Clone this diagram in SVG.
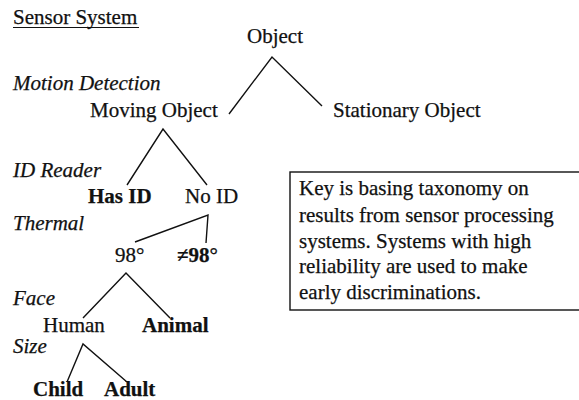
<svg xmlns="http://www.w3.org/2000/svg" width="579" height="400" viewBox="0 0 579 400">
  <style>
    text { font-family: 'Liberation Serif', 'Times New Roman', serif; font-size: 21px; fill: #111; stroke: #111; stroke-width: 0.25; }
    .lvl { font-style: italic; }
    .b { font-weight: bold; }
    .edge { stroke: #111; stroke-width: 1.4; fill: none; }
    .note { fill: #fff; stroke: #111; stroke-width: 1.4; }
  </style>
  <rect width="579" height="400" fill="#fff"/>

  <!-- title -->
  <g id="title">
    <text x="13" y="24">Sensor System</text>
    <line x1="13" y1="27.5" x2="139" y2="27.5" stroke="#111" stroke-width="1.2"/>
  </g>

  <!-- sensor level labels -->
  <g id="levels">
    <text class="lvl" x="13" y="90">Motion Detection</text>
    <text class="lvl" x="13" y="177">ID Reader</text>
    <text class="lvl" x="13" y="230">Thermal</text>
    <text class="lvl" x="13" y="305">Face</text>
    <text class="lvl" x="13" y="353">Size</text>
  </g>

  <!-- tree edges -->
  <g id="connectors">
    <polyline class="edge" points="229,114 272,57 322,106"/>
    <polyline class="edge" points="127,185 163,129 207,185"/>
    <polyline class="edge" points="135,242 208,215 206,243"/>
    <polyline class="edge" points="83,318 126,273 170,318"/>
    <polyline class="edge" points="67,382 83,344 127,382"/>
  </g>

  <!-- nodes -->
  <g id="object"><text x="247" y="43">Object</text></g>
  <g id="moving-object"><text x="90" y="117">Moving Object</text></g>
  <g id="stationary-object"><text x="333" y="117">Stationary Object</text></g>
  <g id="has-id"><text class="b" x="88" y="203">Has ID</text></g>
  <g id="no-id"><text x="185" y="203">No ID</text></g>
  <g id="temp-98"><text x="115" y="262">98°</text></g>
  <g id="temp-not-98"><text class="b" x="177" y="262">≠98°</text></g>
  <g id="human"><text x="43" y="332">Human</text></g>
  <g id="animal"><text class="b" x="142" y="332">Animal</text></g>
  <g id="child"><text class="b" x="33" y="396">Child</text></g>
  <g id="adult"><text class="b" x="104" y="396">Adult</text></g>

  <!-- explanatory note, open on the right edge -->
  <g id="note">
    <rect class="note" x="290" y="172" width="300" height="138"/>
    <text x="299" y="195">Key is basing taxonomy on</text>
    <text x="299" y="222">results from sensor processing</text>
    <text x="299" y="248">systems. Systems with high</text>
    <text x="299" y="273">reliability are used to make</text>
    <text x="299" y="299">early discriminations.</text>
  </g>
</svg>
